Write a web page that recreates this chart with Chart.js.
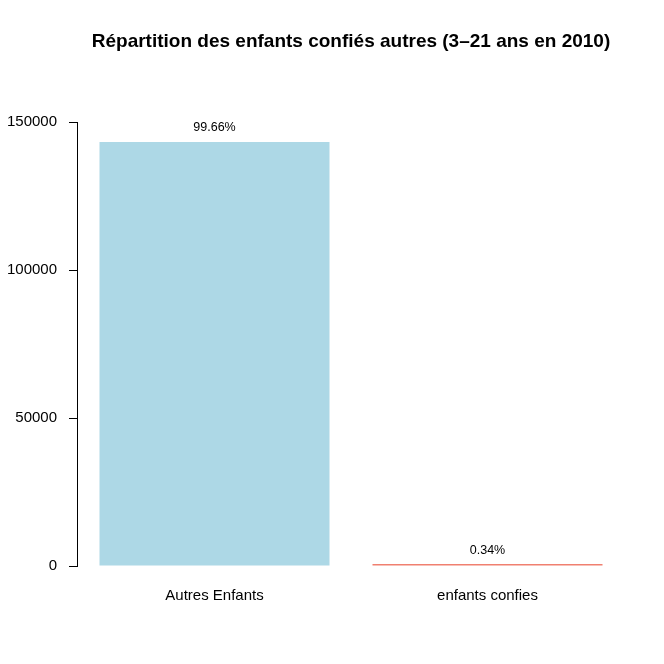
<!DOCTYPE html>
<html>
<head>
<meta charset="utf-8">
<script src="https://cdn.jsdelivr.net/npm/chart.js@4/dist/chart.umd.min.js"></script>
<style>
  html, body { margin: 0; padding: 0; background: #fff; }
  #wrap { width: 664px; height: 664px; }
</style>
</head>
<body>
<div id="wrap"><canvas id="chart" width="664" height="664"></canvas></div>
<script>
// data
const categories = ['Autres Enfants', 'enfants confies'];
const counts = [143250, 489];
const barColors = ['#ADD8E6', '#F08070'];
const yTicks = [0, 50000, 100000, 150000];
const chartTitle = 'Répartition des enfants confiés autres (3–21 ans en 2010)';

const total = counts.reduce((sum, v) => sum + v, 0);
const pctLabels = counts.map(v => (v / total * 100).toFixed(2) + '%');

const FONT = '"Liberation Sans", Arial, sans-serif';

// R style axis line (only over the tick range) + percent labels over bars
const rAxisAndLabels = {
  id: 'rAxisAndLabels',
  afterDatasetsDraw(chart) {
    const ctx = chart.ctx;
    const y = chart.scales.y;
    const xPos = Math.round(y.right) - 0.5;
    ctx.save();
    ctx.strokeStyle = '#000';
    ctx.lineWidth = 1;
    ctx.beginPath();
    ctx.moveTo(xPos, Math.round(y.getPixelForValue(yTicks[0])) + 0.5);
    ctx.lineTo(xPos, Math.round(y.getPixelForValue(yTicks[yTicks.length - 1])) + 0.5);
    ctx.stroke();

    const meta = chart.getDatasetMeta(0);
    ctx.font = '12.5px ' + FONT;
    ctx.fillStyle = '#000';
    ctx.textAlign = 'center';
    ctx.textBaseline = 'middle';
    meta.data.forEach((bar, i) => {
      ctx.fillText(pctLabels[i], bar.x, bar.y - 14);
    });
    ctx.restore();
  }
};

new Chart(document.getElementById('chart'), {
  type: 'bar',
  data: {
    labels: categories,
    datasets: [{
      data: counts,
      backgroundColor: barColors,
      borderWidth: 0,
      minBarLength: 2,
      categoryPercentage: 1,
      barPercentage: 0.8425
    }]
  },
  options: {
    responsive: false,
    animation: false,
    layout: { padding: { left: 0, right: 40, top: 0, bottom: 0 } },
    plugins: {
      legend: { display: false },
      tooltip: { enabled: false },
      title: {
        display: true,
        text: chartTitle,
        fullSize: false,
        color: '#000',
        font: { family: FONT, size: 19, weight: 'bold', lineHeight: 1.2 },
        padding: { top: 30, bottom: 28.2 }
      }
    },
    scales: {
      x: {
        type: 'category',
        offset: true,
        grid: { display: false, drawTicks: false },
        border: { display: false },
        ticks: { color: '#000', font: { family: FONT, size: 15 }, padding: 2, maxRotation: 0 },
        afterFit: (scale) => { scale.height = 79; }
      },
      y: {
        min: -6400,
        max: 163850,
        grid: { display: true, drawOnChartArea: false, drawTicks: true, tickLength: 9, color: '#000', lineWidth: 1 },
        border: { display: false },
        ticks: {
          color: '#000',
          font: { family: FONT, size: 15 },
          padding: 12,
          callback: (value) => String(value)
        },
        afterBuildTicks: (scale) => { scale.ticks = yTicks.map(v => ({ value: v })); },
        afterFit: (scale) => { scale.width = 78; }
      }
    }
  },
  plugins: [rAxisAndLabels]
});
</script>
</body>
</html>
